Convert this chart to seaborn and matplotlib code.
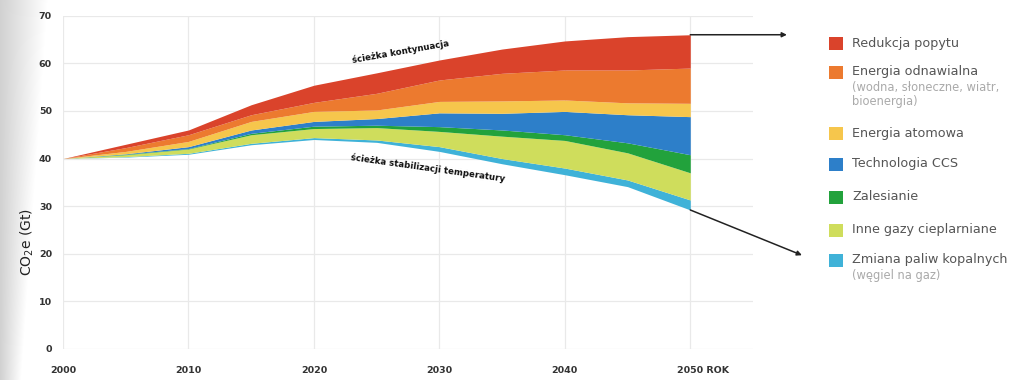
import numpy as np
import pandas as pd
import matplotlib
matplotlib.use("Agg")
import matplotlib.pyplot as plt
import seaborn as sns
from matplotlib.patches import Rectangle
from matplotlib.transforms import ScaledTranslation

# ---------------- data ----------------
years = [2000, 2005, 2010, 2015, 2020, 2025, 2030, 2035, 2040, 2045, 2050]
stabilization_path = [40.0, 40.3, 40.9, 42.9, 44.0, 43.4, 41.5, 38.9, 36.6, 34.1, 29.2]
fuel_switch      = [0, 0.1, 0.2, 0.3, 0.4, 0.5, 1.0, 1.1, 1.4, 1.4, 2.1]
other_gases      = [0, 0.4, 0.9, 1.8, 1.9, 2.6, 3.2, 4.7, 5.8, 5.7, 5.7]
forestation      = [0, 0.1, 0.1, 0.3, 0.5, 0.5, 1.0, 1.3, 1.2, 2.1, 3.8]
ccs              = [0, 0.1, 0.4, 0.7, 1.0, 1.4, 2.9, 3.5, 4.9, 5.9, 8.0]
nuclear          = [0, 0.5, 1.1, 1.8, 2.1, 1.8, 2.4, 2.6, 2.4, 2.5, 2.8]
renewables       = [0, 0.8, 1.4, 1.4, 1.9, 3.5, 4.5, 5.8, 6.3, 6.9, 7.4]
demand_reduction = [0, 0.7, 1.0, 2.1, 3.6, 4.3, 4.2, 5.1, 6.1, 7.0, 7.0]

wedge_names = ["Zmiana paliw kopalnych", "Inne gazy cieplarniane", "Zalesianie",
               "Technologia CCS", "Energia atomowa", "Energia odnawialna",
               "Redukcja popytu"]
wedge_colors = ["#3fb2d8", "#cfdd5c", "#22a23c", "#2d7fc9", "#f6c64c", "#ec7a2f", "#da432b"]

x_ticks = [2000, 2010, 2020, 2030, 2040, 2050]
x_tick_labels = ["2000", "2010", "2020", "2030", "2040", "2050 ROK"]
y_ticks = [0, 10, 20, 30, 40, 50, 60, 70]

legend_entries = [
    ("Redukcja popytu", [], "#da432b"),
    ("Energia odnawialna", ["(wodna, słoneczne, wiatr,", "bioenergia)"], "#ec7a2f"),
    ("Energia atomowa", [], "#f6c64c"),
    ("Technologia CCS", [], "#2d7fc9"),
    ("Zalesianie", [], "#22a23c"),
    ("Inne gazy cieplarniane", [], "#cfdd5c"),
    ("Zmiana paliw kopalnych", ["(węgiel na gaz)"], "#3fb2d8"),
]

# ---------------- figure ----------------
sns.set_theme(style="whitegrid")
plt.rcParams['font.family'] = ['DejaVu Sans']

W, H = 1011, 380
fig = plt.figure(figsize=(W / 100, H / 100), dpi=100)
fig.patch.set_facecolor("white")

def fx(px):
    return px / W

def fy(py):
    return 1 - py / H

# subtle grey vignette at the left edge
bg = fig.add_axes([0, 0, fx(60), 1], zorder=-5)
gx = np.linspace(0, 1, 60)
gy = np.linspace(0, 1, 380)
GX, GY = np.meshgrid(gx, gy)
shade = 0.82 + 0.18 * np.clip(GX / (0.35 + 0.45 * GY), 0, 1)
bg.imshow(np.dstack([shade] * 3), aspect="auto", extent=[0, 1, 0, 1], origin="lower")
bg.axis("off")

ax = fig.add_axes([fx(63), fy(349), fx(753) - fx(63), fy(15.7) - fy(349)])
ax.set_facecolor("none")

df = pd.DataFrame({"year": years, "base": stabilization_path,
                   "fuel": fuel_switch, "gases": other_gases, "forest": forestation,
                   "ccs": ccs, "nuclear": nuclear, "renew": renewables,
                   "demand": demand_reduction})
layers = [df["fuel"], df["gases"], df["forest"], df["ccs"], df["nuclear"],
          df["renew"], df["demand"]]

ax.stackplot(df["year"], df["base"], *layers,
             colors=["none"] + wedge_colors, linewidth=0, zorder=3)

sns.despine(ax=ax, left=True, bottom=True, right=True, top=True)
ax.set_xlim(2000, 2055)
ax.set_ylim(0, 70)
ax.set_xticks(x_ticks)
ax.set_xticklabels(x_tick_labels)
ax.set_yticks(y_ticks)
ax.grid(True, color="#e9e9e9", linewidth=0.9)
ax.tick_params(axis="x", length=0, pad=12, labelsize=6.8, labelcolor="#333333")
ax.tick_params(axis="y", length=0, pad=8, labelsize=6.8, labelcolor="#333333")
for lbl in ax.get_xticklabels() + ax.get_yticklabels():
    lbl.set_fontweight("bold")
last = ax.get_xticklabels()[-1]
last.set_horizontalalignment("left")
last.set_transform(last.get_transform() + ScaledTranslation(-13 / 100, 0, fig.dpi_scale_trans))

fig.text(fx(27), fy(242), r"CO$_2$e (Gt)", rotation=90, ha="center", va="center",
         fontsize=10, color="#222222")

# path annotations
ax.text(2026.9, 62.4, "ścieżka kontynuacja", rotation=10, ha="center", va="center",
        fontsize=6.2, fontweight="bold", color="#111111", zorder=5)
ax.text(2029.1, 38.0, "ścieżka stabilizacji temperatury", rotation=-8, ha="center",
        va="center", fontsize=6.2, fontweight="bold", color="#111111", zorder=5)

top_2050 = df.iloc[-1, 1:].sum()
bottom_2050 = df["base"].iloc[-1]
ax.annotate("", xy=(2057.7, top_2050), xytext=(2050, top_2050),
            arrowprops=dict(arrowstyle="-|>", color="#222222", lw=1.1,
                            mutation_scale=7, shrinkA=0, shrinkB=0),
            annotation_clip=False, zorder=6)
ax.annotate("", xy=(2058.9, 19.7), xytext=(2050, bottom_2050),
            arrowprops=dict(arrowstyle="-|>", color="#222222", lw=1.1,
                            mutation_scale=7, shrinkA=0, shrinkB=0),
            annotation_clip=False, zorder=6)

# legend drawn manually
legend_y = [43, 72, 133, 164, 197, 230, 260]
for (name, subs, col), y in zip(legend_entries, legend_y):
    fig.add_artist(Rectangle((fx(829), fy(y + 6.5)), fx(14), fy(0) - fy(13),
                             transform=fig.transFigure, facecolor=col, edgecolor="none"))
    fig.text(fx(852), fy(y), name, ha="left", va="center", fontsize=9.2, color="#555555")
    for i, s in enumerate(subs):
        fig.text(fx(852), fy(y + 16 + 13 * i), s, ha="left", va="center",
                 fontsize=8.3, color="#aaaaaa")

fig.savefig("out.png", dpi=100)
